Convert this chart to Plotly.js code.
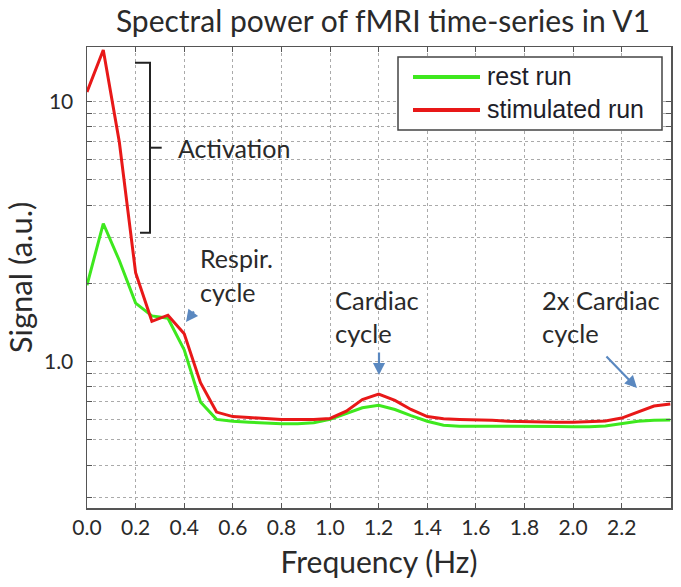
<!DOCTYPE html>
<html>
<head>
<meta charset="utf-8">
<script src="https://cdn.plot.ly/plotly-3.0.1.min.js"></script>
<style>
  html, body { margin: 0; padding: 0; background: #fff; }
  #chart { width: 681px; height: 587px; }
</style>
</head>
<body>
<div id="chart"></div>
<script>
// ---- data ----
const frequencyHz = [0, 0.067, 0.133, 0.2, 0.267, 0.333, 0.4, 0.467, 0.533, 0.6, 0.667, 0.733, 0.8, 0.867, 0.933, 1.0,
  1.067, 1.133, 1.2, 1.267, 1.333, 1.4, 1.467, 1.533, 1.6, 1.667, 1.733, 1.8, 1.867, 1.933, 2.0, 2.067, 2.133, 2.2,
  2.267, 2.333, 2.4];
const restRun = [1.97, 3.4, 2.45, 1.68, 1.5, 1.47, 1.11, 0.70, 0.60, 0.59, 0.585, 0.58, 0.577, 0.577, 0.582, 0.60,
  0.63, 0.665, 0.68, 0.655, 0.62, 0.59, 0.57, 0.565, 0.565, 0.565, 0.566, 0.566, 0.565, 0.563, 0.562, 0.562, 0.566,
  0.578, 0.59, 0.596, 0.597];
const stimulatedRun = [10.9, 15.8, 7.0, 2.2, 1.43, 1.51, 1.28, 0.83, 0.64, 0.615, 0.61, 0.605, 0.60, 0.60, 0.60, 0.605,
  0.645, 0.715, 0.75, 0.71, 0.655, 0.615, 0.603, 0.60, 0.598, 0.595, 0.59, 0.587, 0.585, 0.585, 0.585, 0.587, 0.592,
  0.607, 0.64, 0.675, 0.688];
const seriesNames = ["rest run", "stimulated run"];
const yTickVals = [0.3, 0.4, 0.5, 0.6, 0.7, 0.8, 0.9, 1, 2, 3, 4, 5, 6, 7, 8, 9, 10];
const yTickText = ["", "", "", "", "", "", "", "1.0", "", "", "", "", "", "", "", "", "10"];
const xTickVals = [0, 0.2, 0.4, 0.6, 0.8, 1.0, 1.2, 1.4, 1.6, 1.8, 2.0, 2.2];
const xTickText = ["0.0", "0.2", "0.4", "0.6", "0.8", "1.0", "1.2", "1.4", "1.6", "1.8", "2.0", "2.2"];

// ---- layout helpers (pixel -> paper) ----
const W = 681, H = 587;
const M = { l: 87, r: 10, t: 47, b: 79 };
const PW = W - M.l - M.r, PH = H - M.t - M.b;
const px = x => (x - M.l) / PW;
const py = y => (H - M.b - y) / PH;

const GREEN = "#3ee81e";
const RED = "#e81818";
const ARROW = "#5a88c0";
const TXT = "#2a2a2a";

const traces = [
  { x: frequencyHz, y: restRun, name: seriesNames[0], type: "scatter", mode: "lines",
    line: { color: GREEN, width: 3 } },
  { x: frequencyHz, y: stimulatedRun, name: seriesNames[1], type: "scatter", mode: "lines",
    line: { color: RED, width: 3 } }
];

function textAnn(text, x, y, size) {
  return { text: text, xref: "paper", yref: "paper", x: px(x), y: py(y), xanchor: "left", yanchor: "middle",
    showarrow: false, font: { family: "Lato, sans-serif", size: size, color: TXT } };
}
function arrowAnn(hx, hy, tx, ty) {
  return { text: "", xref: "paper", yref: "paper", x: px(hx), y: py(hy), ax: tx - hx, ay: ty - hy,
    showarrow: true, arrowhead: 2, arrowsize: 1.1, arrowwidth: 2.2, arrowcolor: ARROW, standoff: 0 };
}

const legendFont = { family: "Liberation Sans, Arial, sans-serif", size: 25, color: "#1e1e2a" };

const layout = {
  width: W, height: H,
  margin: M,
  paper_bgcolor: "#fff", plot_bgcolor: "#fff",
  showlegend: false,
  title: { text: "Spectral power of fMRI time-series in V1", xref: "container", yref: "container",
    x: 383 / W, xanchor: "center", y: 1 - 21 / H, yanchor: "middle",
    font: { family: "Lato, sans-serif", size: 30, color: TXT } },
  xaxis: {
    range: [0, 2.403], tickvals: xTickVals, ticktext: xTickText,
    showgrid: true, gridcolor: "#aaaaaa", griddash: "dot", gridwidth: 1,
    zeroline: false, showline: true, linecolor: "#555", linewidth: 1.5, mirror: "allticks",
    ticks: "inside", ticklen: 5, tickcolor: "#555",
    tickfont: { family: "Lato, sans-serif", size: 21, color: TXT },
    title: { text: "Frequency (Hz)", font: { family: "Lato, sans-serif", size: 30, color: TXT }, standoff: 14 },
    automargin: false
  },
  yaxis: {
    type: "log", range: [-0.5627, 1.2104], tickvals: yTickVals, ticktext: yTickText,
    showgrid: true, gridcolor: "#aaaaaa", griddash: "dot", gridwidth: 1,
    zeroline: false, showline: true, linecolor: "#555", linewidth: 1.5, mirror: "allticks",
    ticks: "inside", ticklen: 5, tickcolor: "#555", ticklabelstandoff: 8,
    tickfont: { family: "Lato, sans-serif", size: 21, color: TXT },
    title: { text: "Signal (a.u.)", font: { family: "Lato, sans-serif", size: 31, color: TXT }, standoff: 2 },
    automargin: false
  },
  shapes: [
    // Activation bracket
    { type: "path", xref: "paper", yref: "paper",
      path: `M ${px(135)} ${py(62.7)} L ${px(150)} ${py(62.7)} L ${px(150)} ${py(232.7)} L ${px(140)} ${py(232.7)}`,
      line: { color: "#222", width: 2 } },
    { type: "line", xref: "paper", yref: "paper", x0: px(150), x1: px(161.7), y0: py(147.7), y1: py(147.7),
      line: { color: "#222", width: 2 } },
    // legend box
    { type: "rect", xref: "paper", yref: "paper", x0: px(398), x1: px(662), y0: py(57), y1: py(130),
      fillcolor: "#fff", line: { color: "#444", width: 1.5 }, layer: "above" },
    { type: "line", xref: "paper", yref: "paper", x0: px(413), x1: px(480), y0: py(77), y1: py(77),
      line: { color: GREEN, width: 4 }, layer: "above" },
    { type: "line", xref: "paper", yref: "paper", x0: px(413), x1: px(480), y0: py(110), y1: py(110),
      line: { color: RED, width: 4 }, layer: "above" }
  ],
  annotations: [
    { text: seriesNames[0], xref: "paper", yref: "paper", x: px(485), y: py(76), xanchor: "left", yanchor: "middle",
      showarrow: false, font: legendFont },
    { text: seriesNames[1], xref: "paper", yref: "paper", x: px(485), y: py(109), xanchor: "left", yanchor: "middle",
      showarrow: false, font: legendFont },
    textAnn("Activation", 176, 148, 25),
    textAnn("Respir.", 198, 258, 25),
    textAnn("cycle", 198, 292, 25),
    textAnn("Cardiac", 333, 300, 25.5),
    textAnn("cycle", 333, 333, 25.5),
    textAnn("2x Cardiac", 540, 300, 25.5),
    textAnn("cycle", 540, 333, 25.5),
    arrowAnn(186, 322, 195, 310),
    arrowAnn(379, 375, 379, 351),
    arrowAnn(637, 388, 605, 355)
  ]
};

Plotly.newPlot("chart", traces, layout, { staticPlot: true, displayModeBar: false });
</script>
</body>
</html>
